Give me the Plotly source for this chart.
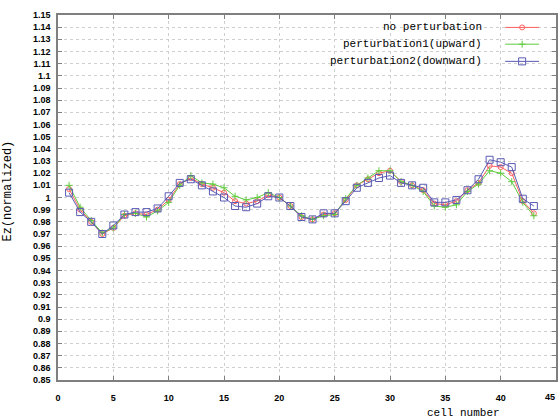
import plotly.graph_objects as go

# ---- data ----
cells = list(range(1, 44))
no_perturbation = [1.007, 0.990, 0.980, 0.970, 0.975, 0.985, 0.987, 0.986, 0.990, 0.998,
                   1.011, 1.016, 1.011, 1.008, 1.004, 0.997, 0.995, 0.997, 1.002, 1.000,
                   0.993, 0.984, 0.982, 0.986, 0.987, 0.998, 1.010, 1.015, 1.020, 1.022,
                   1.013, 1.010, 1.006, 0.995, 0.994, 0.997, 1.006, 1.012, 1.026, 1.025,
                   1.020, 0.997, 0.987]
perturbation_up = [1.010, 0.992, 0.981, 0.971, 0.975, 0.986, 0.987, 0.984, 0.989, 0.996,
                   1.010, 1.018, 1.012, 1.011, 1.008, 1.001, 0.998, 1.000, 1.004, 1.000,
                   0.993, 0.985, 0.982, 0.985, 0.986, 0.999, 1.010, 1.016, 1.022, 1.022,
                   1.013, 1.010, 1.005, 0.993, 0.992, 0.994, 1.005, 1.011, 1.022, 1.020,
                   1.013, 0.996, 0.985]
perturbation_down = [1.004, 0.988, 0.980, 0.970, 0.977, 0.986, 0.988, 0.988, 0.991, 1.001,
                     1.012, 1.015, 1.010, 1.005, 1.000, 0.993, 0.992, 0.995, 1.001, 1.000,
                     0.993, 0.984, 0.982, 0.987, 0.987, 0.997, 1.008, 1.012, 1.016, 1.018,
                     1.012, 1.010, 1.008, 0.996, 0.996, 0.998, 1.006, 1.015, 1.031, 1.029,
                     1.025, 0.999, 0.993]
series_names = ["no perturbation", "perturbation1(upward)", "perturbation2(downward)"]

x_ticks = list(range(0, 46, 5))
y_ticks = [round(0.85 + 0.01 * i, 2) for i in range(31)]
y_ticktext = ["%g" % v for v in y_ticks]

# ---- styles ----
colors = ["#ff5f5f", "#5fcc3f", "#5a5ab4"]
symbols = ["circle-open", "cross-thin-open", "square-open"]
msizes = [5, 5, 7]
mono = "Liberation Mono, DejaVu Sans Mono, monospace"
tickfont = dict(family="Liberation Sans Narrow, Arial Narrow, sans-serif", size=9,
                color="#000000", weight="bold")

fig = go.Figure()
for ys, name, c, s, ms in zip([no_perturbation, perturbation_up, perturbation_down],
                              series_names, colors, symbols, msizes):
    fig.add_trace(go.Scatter(x=cells, y=ys, mode="lines+markers", name=name,
                             line=dict(color=c, width=1),
                             marker=dict(symbol=s, size=ms, color=c,
                                         line=dict(color=c, width=1)),
                             showlegend=False))

# ---- manual legend (text left, sample right, like gnuplot) ----
leg_y = [0.966, 0.920, 0.873]
for name, c, s, ms, yy in zip(series_names, colors, symbols, msizes, leg_y):
    fig.add_trace(go.Scatter(x=[0.898, 0.932, 0.966], y=[yy, yy, yy],
                             xaxis="x2", yaxis="y2", mode="lines",
                             line=dict(color=c, width=1), showlegend=False,
                             hoverinfo="skip"))
    fig.add_trace(go.Scatter(x=[0.932], y=[yy], xaxis="x2", yaxis="y2",
                             mode="markers",
                             marker=dict(symbol=s, size=ms, color=c,
                                         line=dict(color=c, width=1)),
                             showlegend=False, hoverinfo="skip"))
    fig.add_annotation(xref="paper", yref="paper", x=0.855, y=yy, text=name,
                       showarrow=False, xanchor="right", yanchor="middle",
                       font=dict(family=mono, size=11, color="#000000"))

axis_common = dict(showline=True, linecolor="#7f7f7f", linewidth=1.5, mirror="allticks",
                   ticks="inside", ticklen=4, tickcolor="#7f7f7f", tickwidth=1,
                   showgrid=True, gridcolor="#cfcfcf", griddash="dot", gridwidth=1,
                   zeroline=False, tickfont=tickfont)

fig.update_layout(
    width=559, height=418,
    margin=dict(l=58, r=1, t=15, b=38),
    paper_bgcolor="#ffffff", plot_bgcolor="#ffffff",
    showlegend=False,
    xaxis=dict(range=[0, 45], tickvals=x_ticks, ticktext=[str(v) for v in x_ticks],
               ticklabelstandoff=8, **axis_common),
    yaxis=dict(range=[0.85, 1.15], tickvals=y_ticks, ticktext=y_ticktext,
               ticklabelstandoff=4, **axis_common),
    xaxis2=dict(overlaying="x", range=[0, 1], visible=False),
    yaxis2=dict(overlaying="y", range=[0, 1], visible=False),
)

# last x tick label sits at the page edge; anchor it so it stays fully visible
fig.add_annotation(xref="paper", yref="paper", x=1.0, y=-0.047, text=str(x_ticks[-1]),
                   showarrow=False, xanchor="right", yanchor="middle", xshift=1,
                   font=tickfont)

fig.add_annotation(xref="paper", yref="paper", x=0.814, y=-0.09, text="cell number",
                   showarrow=False, xanchor="center", yanchor="middle",
                   font=dict(family=mono, size=11, color="#000000"))
fig.add_annotation(xref="paper", yref="paper", x=-0.1, y=0.517, text="Ez(normalized)",
                   textangle=-90, showarrow=False, xanchor="center", yanchor="middle",
                   font=dict(family=mono, size=12, color="#000000"))

fig.write_html("out.html")
